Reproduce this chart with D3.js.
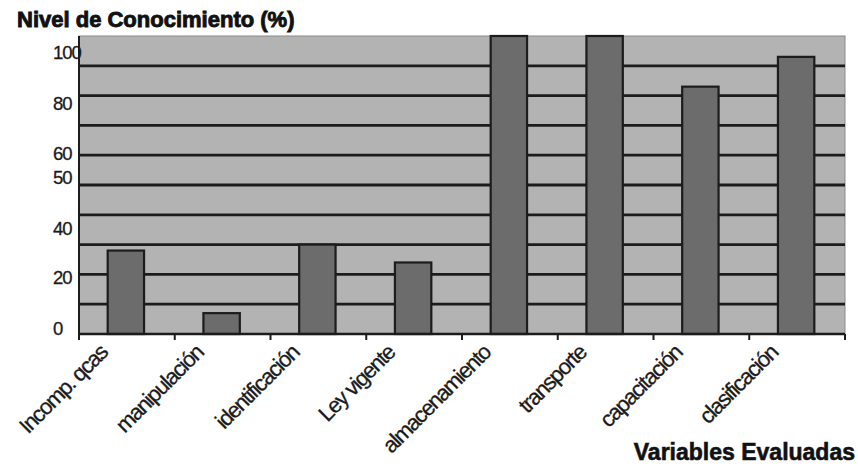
<!DOCTYPE html>
<html>
<head>
<meta charset="utf-8">
<script src="https://cdn.jsdelivr.net/npm/d3@7/dist/d3.min.js"></script>
<style>
  body { margin: 0; background: #fff; }
  svg { display: block; }
</style>
</head>
<body>
<svg id="chart" width="858" height="468"></svg>
<script>
// Knowledge level per evaluated variable (%)
const categories = ["Incomp. qcas", "manipulación", "identificación", "Ley vigente",
                    "almacenamiento", "transporte", "capacitación", "clasificación"];
const values = [28, 7, 30, 24, 100, 100, 83, 93];

// Horizontal rule values and the hand-placed axis labels (anchored in data units)
const gridValues = [10, 20, 30, 40, 50, 60, 70, 80, 90];
const tickLabels = ["100", "80", "60", "50", "40", "20", "0"];
const tickAnchors = [94.5, 77.5, 60.5, 52.5, 35.5, 19, 2];

const svg = d3.select("#chart");
const plot = { left: 79, right: 845, top: 36, bottom: 334 };

const x = d3.scaleBand().domain(categories).range([plot.left, plot.right]);
const y = d3.scaleLinear().domain([0, 100]).range([plot.bottom, plot.top]);

// Plot background
svg.append("rect")
  .attr("x", plot.left).attr("y", plot.top)
  .attr("width", plot.right - plot.left).attr("height", plot.bottom - plot.top)
  .attr("fill", "#b3b3b3")
  .attr("stroke", "#8a8a8a").attr("stroke-width", 1);

// Grid lines
svg.append("g").selectAll("line")
  .data(gridValues).join("line")
  .attr("x1", plot.left).attr("x2", plot.right)
  .attr("y1", d => y(d)).attr("y2", d => y(d))
  .attr("stroke", "#1c1c1c").attr("stroke-width", 2.8);

// Bars
const barW = x.bandwidth() * 0.38;
svg.append("g").selectAll("rect")
  .data(values).join("rect")
  .attr("x", (d, i) => x(categories[i]) + (x.bandwidth() - barW) / 2 - 1)
  .attr("y", d => y(d))
  .attr("width", barW)
  .attr("height", d => y(0) - y(d))
  .attr("fill", "#6c6c6c")
  .attr("stroke", "#1c1c1c").attr("stroke-width", 2.2);

// Axes lines
svg.append("line")
  .attr("x1", plot.left).attr("x2", plot.left)
  .attr("y1", plot.top).attr("y2", plot.bottom + 6)
  .attr("stroke", "#1c1c1c").attr("stroke-width", 2);
svg.append("line")
  .attr("x1", plot.left).attr("x2", plot.right)
  .attr("y1", plot.bottom).attr("y2", plot.bottom)
  .attr("stroke", "#1c1c1c").attr("stroke-width", 2.6);

// Category boundary ticks
const boundaries = categories.map(c => x(c)).concat([x.range()[1]]);
svg.append("g").selectAll("line")
  .data(boundaries).join("line")
  .attr("x1", d => d).attr("x2", d => d)
  .attr("y1", plot.bottom).attr("y2", plot.bottom + 6)
  .attr("stroke", "#1c1c1c").attr("stroke-width", 2);

// Y labels
svg.append("g").selectAll("text")
  .data(tickLabels).join("text")
  .attr("x", 53)
  .attr("y", (d, i) => y(tickAnchors[i]))
  .attr("dy", "0.36em")
  .attr("font-family", "Liberation Sans, Arial, sans-serif")
  .attr("font-size", 18.5)
  .attr("letter-spacing", -1)
  .attr("fill", "#1a1a1a")
  .attr("stroke", "#1a1a1a").attr("stroke-width", 0.3)
  .text(d => d);

// Category labels
svg.append("g").selectAll("text")
  .data(categories).join("text")
  .attr("transform", d => `translate(${x(d) + x.bandwidth() / 2 - 18},354) rotate(-45)`)
  .attr("text-anchor", "end")
  .attr("font-family", "Liberation Sans, Arial, sans-serif")
  .attr("font-size", 22)
  .attr("letter-spacing", -1.4)
  .attr("fill", "#1a1a1a")
  .attr("stroke", "#1a1a1a").attr("stroke-width", 0.3)
  .text(d => d);

// Titles
svg.append("text")
  .attr("x", 17).attr("y", 27)
  .attr("font-family", "Liberation Sans, Arial, sans-serif")
  .attr("font-size", 22).attr("font-weight", "bold")
  .attr("fill", "#111").attr("stroke", "#111").attr("stroke-width", 0.9)
  .text("Nivel de Conocimiento (%)");

svg.append("text")
  .attr("x", 855).attr("y", 460)
  .attr("text-anchor", "end")
  .attr("font-family", "Liberation Sans, Arial, sans-serif")
  .attr("font-size", 23).attr("font-weight", "bold")
  .attr("fill", "#111").attr("stroke", "#111").attr("stroke-width", 0.6)
  .text("Variables Evaluadas");
</script>
</body>
</html>
